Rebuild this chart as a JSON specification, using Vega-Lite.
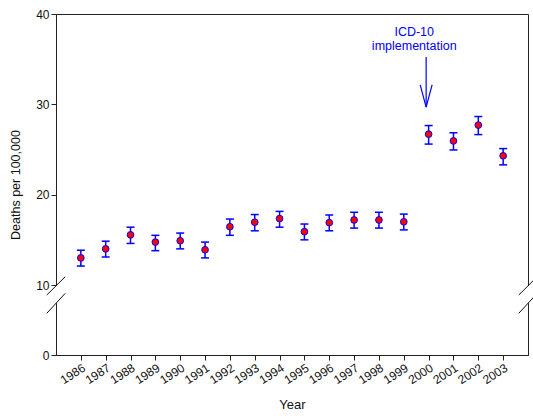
{
  "$schema": "https://vega.github.io/schema/vega-lite/v6.json",
  "width": 472,
  "height": 341,
  "autosize": "none",
  "padding": {"left": 56, "top": 14, "right": 5, "bottom": 63},
  "config": {
    "view": {"stroke": "#222", "strokeWidth": 1},
    "font": "Liberation Sans",
    "axis": {
      "grid": false,
      "domainColor": "#222",
      "tickColor": "#222",
      "labelColor": "#111",
      "titleColor": "#111",
      "labelFont": "Liberation Sans",
      "titleFont": "Liberation Sans",
      "titleFontWeight": "normal",
      "tickSize": 5,
      "labelOverlap": false,
      "labelFlush": false
    }
  },
  "datasets": {
    "pts": [
      {"year": 1986, "value": 13.0, "lo": 12.1, "hi": 13.85},
      {"year": 1987, "value": 14.0, "lo": 13.1, "hi": 14.85},
      {"year": 1988, "value": 15.55, "lo": 14.6, "hi": 16.4},
      {"year": 1989, "value": 14.75, "lo": 13.8, "hi": 15.5},
      {"year": 1990, "value": 14.9, "lo": 14.0, "hi": 15.75},
      {"year": 1991, "value": 13.9, "lo": 13.0, "hi": 14.75},
      {"year": 1992, "value": 16.45, "lo": 15.5, "hi": 17.3},
      {"year": 1993, "value": 16.95, "lo": 16.0, "hi": 17.8},
      {"year": 1994, "value": 17.35, "lo": 16.4, "hi": 18.15},
      {"year": 1995, "value": 15.9, "lo": 15.0, "hi": 16.75},
      {"year": 1996, "value": 16.9, "lo": 16.0, "hi": 17.75},
      {"year": 1997, "value": 17.2, "lo": 16.3, "hi": 18.05},
      {"year": 1998, "value": 17.2, "lo": 16.3, "hi": 18.05},
      {"year": 1999, "value": 17.0, "lo": 16.1, "hi": 17.85},
      {"year": 2000, "value": 26.7, "lo": 25.6, "hi": 27.65},
      {"year": 2001, "value": 25.95, "lo": 24.95, "hi": 26.85},
      {"year": 2002, "value": 27.7, "lo": 26.65, "hi": 28.65},
      {"year": 2003, "value": 24.3, "lo": 23.3, "hi": 25.1}
    ],
    "gaps": [
      {"year": 1985, "value": 7.4, "value2": 9.85},
      {"year": 2004, "value": 7.4, "value2": 9.85}
    ],
    "breaks": [
      {"year": 1984.63, "year2": 1985.37, "value": 8.57, "value2": 10.92},
      {"year": 1984.63, "year2": 1985.37, "value": 5.96, "value2": 8.81},
      {"year": 2003.63, "year2": 2004.37, "value": 8.57, "value2": 10.92},
      {"year": 2003.63, "year2": 2004.37, "value": 5.96, "value2": 8.81}
    ],
    "arrow": [
      {"year": 1999.9, "year2": 1999.9, "value": 35.25, "value2": 29.7},
      {"year": 1999.66, "year2": 1999.9, "value": 32.15, "value2": 29.7},
      {"year": 2000.14, "year2": 1999.9, "value": 32.15, "value2": 29.7}
    ],
    "labels": [
      {"year": 1999.42, "value": 38.0, "text": "ICD-10"},
      {"year": 1999.42, "value": 36.45, "text": "implementation"}
    ]
  },
  "layer": [
    {
      "data": {"name": "gaps"},
      "mark": {"type": "rule", "color": "white", "strokeWidth": 4},
      "encoding": {
        "x": {"field": "year", "type": "quantitative", "title": "Year",
              "scale": {"domain": [1985, 2004], "nice": false, "zero": false},
              "axis": {"values": [1986,1987,1988,1989,1990,1991,1992,1993,1994,1995,1996,1997,1998,1999,2000,2001,2002,2003],
                       "tickCount": 40,
                       "format": "d", "labelAngle": -33, "labelFontSize": 12, "titleFontSize": 13, "titlePadding": 13,
                       "labelOverlap": false, "labelFlush": false, "labelBound": false}},
        "y": {"field": "value", "type": "quantitative", "title": "Deaths per 100,000",
              "scale": {"domain": [0, 10, 40], "range": [341, 271, 0], "nice": false, "zero": false},
              "axis": {"values": [0, 10, 20, 30, 40], "tickCount": 10, "labelFontSize": 12, "titleFontSize": 12.5, "labelPadding": 2, "titlePadding": 13}},
        "y2": {"field": "value2"}
      }
    },
    {
      "data": {"name": "breaks"},
      "mark": {"type": "rule", "color": "#111", "strokeWidth": 1},
      "encoding": {
        "x": {"field": "year", "type": "quantitative", "title": "Year"},
        "x2": {"field": "year2"},
        "y": {"field": "value", "type": "quantitative", "title": "Deaths per 100,000"},
        "y2": {"field": "value2"}
      }
    },
    {
      "data": {"name": "pts"},
      "mark": {"type": "rule", "color": "#0000ff", "strokeWidth": 1.5},
      "encoding": {
        "x": {"field": "year", "type": "quantitative", "title": "Year"},
        "y": {"field": "lo", "type": "quantitative", "title": "Deaths per 100,000"},
        "y2": {"field": "hi"}
      }
    },
    {
      "data": {"name": "pts"},
      "mark": {"type": "tick", "orient": "horizontal", "color": "#0000ff", "size": 8, "thickness": 1.5, "opacity": 1},
      "encoding": {
        "x": {"field": "year", "type": "quantitative", "title": "Year"},
        "y": {"field": "lo", "type": "quantitative", "title": "Deaths per 100,000"}
      }
    },
    {
      "data": {"name": "pts"},
      "mark": {"type": "tick", "orient": "horizontal", "color": "#0000ff", "size": 8, "thickness": 1.5, "opacity": 1},
      "encoding": {
        "x": {"field": "year", "type": "quantitative", "title": "Year"},
        "y": {"field": "hi", "type": "quantitative", "title": "Deaths per 100,000"}
      }
    },
    {
      "data": {"name": "pts"},
      "mark": {"type": "circle", "size": 45, "fill": "#ff0000", "stroke": "#0000ff", "strokeWidth": 1, "opacity": 1},
      "encoding": {
        "x": {"field": "year", "type": "quantitative", "title": "Year"},
        "y": {"field": "value", "type": "quantitative", "title": "Deaths per 100,000"}
      }
    },
    {
      "data": {"name": "arrow"},
      "mark": {"type": "rule", "color": "#0000ff", "strokeWidth": 1.2},
      "encoding": {
        "x": {"field": "year", "type": "quantitative", "title": "Year"},
        "x2": {"field": "year2"},
        "y": {"field": "value", "type": "quantitative", "title": "Deaths per 100,000"},
        "y2": {"field": "value2"}
      }
    },
    {
      "data": {"name": "labels"},
      "mark": {"type": "text", "color": "#0000ff", "fontSize": 12.5, "align": "center", "baseline": "middle", "font": "Liberation Sans"},
      "encoding": {
        "x": {"field": "year", "type": "quantitative", "title": "Year"},
        "y": {"field": "value", "type": "quantitative", "title": "Deaths per 100,000"},
        "text": {"field": "text"}
      }
    }
  ]
}
